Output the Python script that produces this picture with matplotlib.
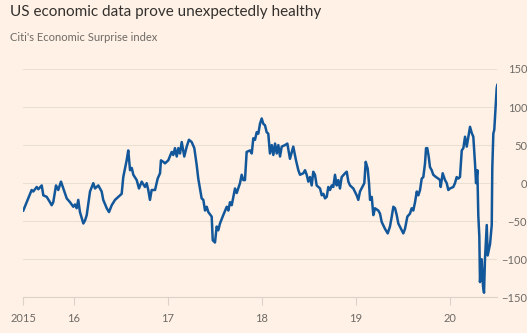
import matplotlib
matplotlib.use("Agg")
import matplotlib.pyplot as plt

# Citi economic surprise index (decimal years)
years = [
    2015.464, 2015.500, 2015.553, 2015.570, 2015.607, 2015.624, 2015.660, 2015.677,
    2015.713, 2015.748, 2015.766, 2015.783, 2015.812, 2015.836, 2015.865, 2015.890,
    2015.926, 2015.961, 2015.996, 2016.014, 2016.032, 2016.049, 2016.067, 2016.103,
    2016.121, 2016.139, 2016.174, 2016.209, 2016.227, 2016.262, 2016.298, 2016.315,
    2016.352, 2016.376, 2016.405, 2016.440, 2016.475, 2016.511, 2016.528, 2016.564,
    2016.581, 2016.600, 2016.618, 2016.635, 2016.671, 2016.695, 2016.724, 2016.759,
    2016.777, 2016.794, 2016.812, 2016.830, 2016.866, 2016.894, 2016.919, 2016.929,
    2016.954, 2016.972, 2017.007, 2017.043, 2017.060, 2017.078, 2017.097, 2017.114,
    2017.132, 2017.150, 2017.177, 2017.203, 2017.227, 2017.256, 2017.284, 2017.309,
    2017.326, 2017.344, 2017.362, 2017.380, 2017.398, 2017.416, 2017.433, 2017.469,
    2017.480, 2017.504, 2017.522, 2017.539, 2017.557, 2017.592, 2017.629, 2017.646,
    2017.664, 2017.682, 2017.699, 2017.717, 2017.735, 2017.770, 2017.788, 2017.805,
    2017.823, 2017.841, 2017.877, 2017.895, 2017.912, 2017.930, 2017.948, 2017.965,
    2017.983, 2018.001, 2018.018, 2018.036, 2018.054, 2018.071, 2018.089, 2018.108,
    2018.125, 2018.143, 2018.161, 2018.178, 2018.196, 2018.214, 2018.249, 2018.274,
    2018.302, 2018.337, 2018.366, 2018.391, 2018.409, 2018.444, 2018.462, 2018.480,
    2018.497, 2018.515, 2018.533, 2018.550, 2018.568, 2018.586, 2018.622, 2018.640,
    2018.657, 2018.675, 2018.693, 2018.710, 2018.728, 2018.746, 2018.763, 2018.781,
    2018.799, 2018.816, 2018.834, 2018.852, 2018.888, 2018.906, 2018.923, 2018.941,
    2018.976, 2019.012, 2019.029, 2019.047, 2019.072, 2019.093, 2019.108, 2019.129,
    2019.143, 2019.154, 2019.172, 2019.189, 2019.207, 2019.242, 2019.260, 2019.278,
    2019.313, 2019.342, 2019.366, 2019.385, 2019.402, 2019.420, 2019.438, 2019.455,
    2019.491, 2019.508, 2019.526, 2019.551, 2019.579, 2019.597, 2019.614, 2019.633,
    2019.651, 2019.668, 2019.686, 2019.704, 2019.721, 2019.739, 2019.750, 2019.763,
    2019.778, 2019.792, 2019.810, 2019.827, 2019.856, 2019.880, 2019.899, 2019.906,
    2019.927, 2019.952, 2019.970, 2019.987, 2020.005, 2020.040, 2020.058, 2020.076,
    2020.093, 2020.111, 2020.130, 2020.147, 2020.165, 2020.183, 2020.200, 2020.218,
    2020.236, 2020.253, 2020.271, 2020.282, 2020.296, 2020.306, 2020.317, 2020.324,
    2020.342, 2020.356, 2020.367, 2020.377, 2020.396, 2020.406, 2020.431, 2020.449,
    2020.455, 2020.466, 2020.476, 2020.502, 2020.508,
]
values = [
    -36, -25, -9, -11, -5, -8, -3, -16,
    -18, -25, -29, -25, -3, -9, 2, -7,
    -20, -25, -31, -28, -33, -22, -38, -53,
    -49, -42, -11, 0, -7, -3, -11, -22,
    -33, -38, -29, -22, -18, -14, 8, 30,
    43, 17, 20, 11, 4, -7, 2, -5,
    0, -9, -22, -9, -9, 6, 13, 30,
    28, 26, 30, 41, 37, 46, 35, 46,
    39, 54, 35, 48, 57, 54, 46, 24,
    6, -7, -20, -22, -36, -31, -38, -44,
    -75, -78, -57, -62, -53, -42, -31, -36,
    -25, -29, -18, -7, -13, 0, 11, 4,
    4, 41, 43, 39, 59, 57, 67, 65,
    78, 85, 78, 76, 67, 65, 39, 50,
    37, 52, 39, 50, 35, 48, 50, 52,
    32, 48, 30, 17, 11, 13, 17, 11,
    2, 8, -3, 15, 11, -3, -7, -16,
    -14, -20, -18, -5, -9, -3, -5, 11,
    -3, 4, -7, 8, 13, 15, 2, -3,
    -7, -16, -22, -11, -5, 0, 28, 19,
    0, -22, -18, -42, -33, -36, -40, -51,
    -60, -66, -57, -44, -31, -33, -42, -53,
    -62, -66, -60, -44, -40, -33, -36, -25,
    -11, -16, -9, 6, 8, 26, 46, 46,
    35, 21, 17, 11, 8, 6, 4, -5,
    13, 4, 0, -9, -7, -5, 0, 8,
    6, 8, 43, 46, 61, 48, 61, 74,
    66, 61, 26, 0, 17, -42, -70, -130,
    -100, -135, -144, -100, -55, -95, -80, -55,
    20, 65, 70, 125, 129,
]

x_ticks = [2015.464, 2016, 2017, 2018, 2019, 2020]
x_labels = ["2015", "16", "17", "18", "19", "20"]
y_ticks = [-150, -100, -50, 0, 50, 100, 150]

bg = "#FFF1E5"
plt.rcParams["font.family"] = "Lato"
fig = plt.figure(figsize=(5.27, 3.33), dpi=100, facecolor=bg)
ax = fig.add_axes([0.0442, 0.1072, 0.8994, 0.6856], facecolor=bg)

ax.plot(years, values, color="#13579B", linewidth=1.8, solid_joinstyle="round", zorder=3)

ax.set_xlim(2015.464, 2020.508)
ax.set_ylim(-150, 150)
ax.set_yticks(y_ticks)
ax.set_xticks(x_ticks)
ax.set_xticklabels(x_labels)

for s in ["top", "left", "right"]:
    ax.spines[s].set_visible(False)
ax.spines["bottom"].set_color("#DCD2C9")
ax.spines["bottom"].set_linewidth(0.8)

ax.yaxis.grid(True, color="#EBDFD4", linewidth=0.8)
ax.set_axisbelow(True)

ax.tick_params(axis="x", length=6, width=0.8, color="#DCD2C9", labelcolor="#6E6A66",
               labelsize=8, pad=5)
ax.tick_params(axis="y", left=False, right=False, labelleft=False, labelright=True,
               labelcolor="#6E6A66", labelsize=8, pad=18)
for lab in ax.get_yticklabels():
    lab.set_horizontalalignment("right")

fig.text(0.019, 0.985, "US economic data prove unexpectedly healthy", fontsize=11,
         color="#33302E", va="top")
fig.text(0.019, 0.903, "Citi's Economic Surprise index", fontsize=8,
         color="#6E6A66", va="top")

fig.savefig("out.png", dpi=100, facecolor=bg)
